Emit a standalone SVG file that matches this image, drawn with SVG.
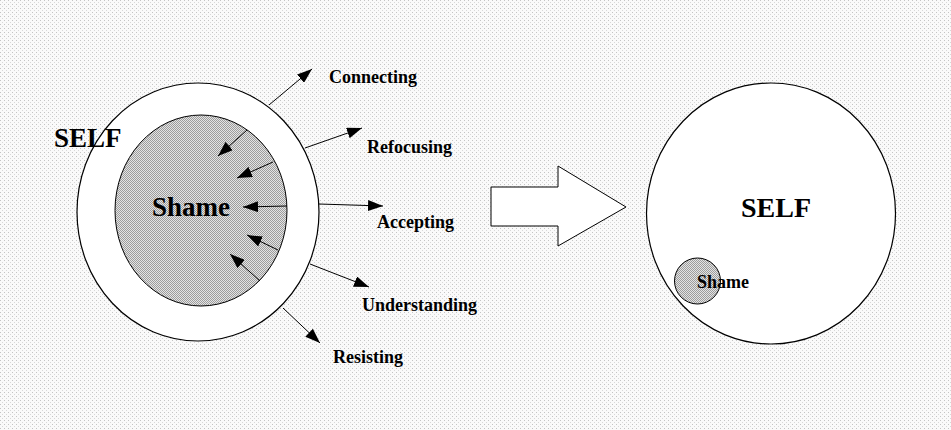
<svg xmlns="http://www.w3.org/2000/svg" width="951" height="430" viewBox="0 0 951 430">
  <defs>
    <pattern id="bgdots" width="4" height="4" patternUnits="userSpaceOnUse">
      <rect width="4" height="4" fill="#fafafa"/>
      <rect x="0" y="0" width="1" height="1" fill="#c4c4c4"/>
      <rect x="2" y="2" width="1" height="1" fill="#d8d8d8"/>
    </pattern>
    <pattern id="shade" width="2" height="2" patternUnits="userSpaceOnUse">
      <rect width="2" height="2" fill="#e4e4e4"/>
      <rect x="0" y="0" width="1" height="1" fill="#9c9c9c"/>
      <rect x="1" y="1" width="1" height="1" fill="#9c9c9c"/>
    </pattern>
    <marker id="ah" viewBox="0 0 15 11" refX="15" refY="5.5" markerWidth="15" markerHeight="11" markerUnits="userSpaceOnUse" orient="auto">
      <path d="M0,0 L15,5.5 L0,11 Z" fill="#000"/>
    </marker>
  </defs>
  <style>
    .ring { fill: #fff; stroke: #000; stroke-width: 1.2; }
    .shame { fill: url(#shade); stroke: #000; stroke-width: 1; }
    .lbl { font-family: "Liberation Serif", "Times New Roman", serif; font-weight: bold; fill: #000; }
    .con line { stroke: #000; stroke-width: 1; marker-end: url(#ah); }
  </style>
  <rect width="951" height="430" fill="url(#bgdots)"/>

  <g id="self-left">
    <ellipse class="ring" cx="198" cy="212" rx="121" ry="129"/>
  </g>
  <g id="shame-left">
    <ellipse class="shame" cx="201" cy="210.5" rx="86" ry="95.5"/>
    <text class="lbl" x="152" y="216" font-size="27">Shame</text>
  </g>
  <g id="self-label-left">
    <text class="lbl" x="54" y="147" font-size="27">SELF</text>
  </g>

  <g id="connectors" class="con">
    <line x1="269" y1="105" x2="312" y2="69"/>
    <line x1="305" y1="148" x2="362" y2="128"/>
    <line x1="319" y1="204" x2="383" y2="206"/>
    <line x1="310" y1="264" x2="369" y2="287"/>
    <line x1="283" y1="308" x2="320" y2="343"/>
    <line x1="247" y1="130" x2="218" y2="156"/>
    <line x1="273" y1="162" x2="237" y2="178"/>
    <line x1="287" y1="206" x2="243" y2="207"/>
    <line x1="278" y1="250" x2="247" y2="235"/>
    <line x1="260" y1="281" x2="230" y2="254"/>
  </g>

  <g id="label-connecting"><text class="lbl" x="329" y="83" font-size="18">Connecting</text></g>
  <g id="label-refocusing"><text class="lbl" x="367" y="153" font-size="18">Refocusing</text></g>
  <g id="label-accepting"><text class="lbl" x="377" y="228" font-size="18">Accepting</text></g>
  <g id="label-understanding"><text class="lbl" x="362" y="311" font-size="18">Understanding</text></g>
  <g id="label-resisting"><text class="lbl" x="333" y="363" font-size="18">Resisting</text></g>

  <g id="big-arrow">
    <path d="M491,187 L558,187 L558,166 L626,207 L558,246 L558,226 L491,226 Z" fill="#fff" stroke="#000" stroke-width="1"/>
  </g>

  <g id="self-right">
    <ellipse class="ring" cx="771" cy="213.5" rx="124.5" ry="130.5"/>
    <text class="lbl" x="741" y="217" font-size="28">SELF</text>
  </g>
  <g id="shame-right">
    <circle class="shame" cx="697.5" cy="281" r="23"/>
    <text class="lbl" x="697" y="288" font-size="18">Shame</text>
  </g>
</svg>
